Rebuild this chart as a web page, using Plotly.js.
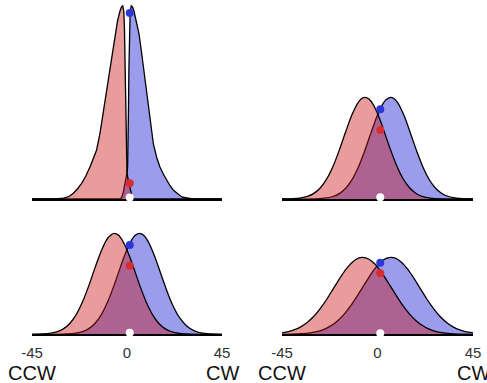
<!DOCTYPE html>
<html><head><meta charset="utf-8">
<script src="https://cdn.plot.ly/plotly-3.0.1.min.js"></script>
<style>html,body{margin:0;padding:0;background:#fff}#chart{width:487px;height:383px}</style>
</head><body><div id="chart"></div>
<script>
// ---- tick labels ----
const tickVals = [-45, 0, 45];
const tickText = ['-45', '0', '45'];
const dirText = ['CCW', 'CW'];
const dirPos = [-45, 45];

// ---- top-left panel ----
const tlRedX = [-45, -34, -30, -27.5, -25.4, -23.5, -21.5, -19.5, -17.5, -16, -14.4, -12.8, -11.6, -10.4, -9.2, -8, -6.8, -5.7, -4.5, -3.3, -2.6, -2.0, -1.5, -1.2, -0.9, -0.7, -0.5, -0.3, 0, 0.5, 1.1, 1.7, 2.4, 3.2, 45];
const tlRedY = [0, 0, 0.8, 2.5, 5.7, 10, 15.7, 23, 32.3, 40, 49, 65.7, 82, 99, 116, 132, 150, 165.7, 178, 188, 192, 193, 187, 170, 130, 90, 50, 32, 26, 20, 14, 7, 2, 0, 0];
const tlBlueX = [-45, -3.2, -2.4, -1.7, -1.1, -0.5, 0, 0.3, 0.5, 0.7, 0.9, 1.2, 1.5, 2.0, 2.6, 3.3, 4.5, 5.7, 6.8, 8, 9, 9.95, 11.2, 12.5, 14, 15.6, 17.2, 18.8, 20.3, 21.9, 23.9, 25.9, 28.3, 31, 45];
const tlBlueY = [0, 0, 2, 7, 14, 20, 26, 32, 50, 90, 130, 170, 187, 193, 192, 188, 178, 165, 148, 129, 113, 99, 75, 55, 42, 32, 25, 19, 13.5, 9, 5, 2, 1, 0, 0];
const tlDotY = [1.5, 15.7, 186];

// ---- top-right panel ----
const trRedX = [-45, -40, -36, -33, -30, -27, -24, -21, -18, -15, -12, -9, -7, -5.9, -4, -2, 0, 1.5, 3, 6, 9, 12, 15, 18, 21, 25, 30, 45];
const trRedY = [0, 0.3, 1.1, 2.6, 5.6, 11, 19.8, 32.5, 48.9, 67.2, 84.4, 96.9, 101.1, 101.7, 99.9, 94.3, 85.5, 77.4, 68.4, 50.1, 33.5, 20.5, 11.5, 5.8, 2.7, 0.9, 0.2, 0];
const trBlueX = [-45, -30, -25, -21, -18, -15, -12, -9, -6, -3, -1.5, 0, 2, 4, 6.2, 7.5, 9.5, 12.5, 15.5, 18.5, 21.5, 24.5, 27.5, 30.5, 33.5, 37, 41, 45];
const trBlueY = [0, 0.1, 0.8, 2.5, 5.4, 10.8, 19.4, 32, 48.3, 66.6, 75.6, 83.9, 93.1, 99.3, 101.7, 100.8, 96.3, 83.4, 66, 47.7, 31.5, 19, 10.5, 5.3, 2.5, 0.9, 0.2, 0];
const trDotY = [1.7, 69, 89.7];

// ---- bottom-left panel ----
const blRedX = [-45, -40, -36, -33, -30, -27, -24, -21, -18, -15, -12, -9, -6, -4, -2, 0, 1.5, 3, 6, 9, 12, 15, 18, 21, 25, 30, 45];
const blRedY = [0, 0.3, 1.1, 2.6, 5.7, 11.1, 20, 32.8, 49.2, 67.4, 84.4, 96.6, 101, 99, 93.2, 84.4, 76.3, 67.4, 49.2, 32.8, 20, 11.1, 5.7, 2.6, 0.8, 0.15, 0];
const blBlueX = [-45, -30.1, -25.1, -21.1, -18.1, -15.1, -12.1, -9.1, -6.1, -3.1, -1.6, -0.1, 1.9, 3.9, 5.9, 7.9, 9.9, 12.9, 15.9, 18.9, 21.9, 24.9, 27.9, 30.9, 33.9, 37.9, 41.9, 45];
const blBlueY = [0, 0.15, 0.8, 2.6, 5.7, 11.1, 20, 32.8, 49.2, 67.4, 76.3, 84.4, 93.2, 99, 101, 99, 93.2, 79.1, 61.3, 43.4, 28.1, 16.6, 9, 4.4, 2, 0.6, 0.15, 0];
const blDotY = [1.6, 68.6, 89.3];

// ---- bottom-right panel ----
const brRedX = [-45, -42, -39, -36, -33, -30, -27, -24, -21, -18, -15, -12, -9, -7, -4, -1, 1, 3, 6, 9, 12, 15, 18, 21, 24, 27, 31, 36, 41, 45];
const brRedY = [1.5, 2.7, 4.6, 7.7, 12.1, 18, 25.7, 34.8, 45, 55.2, 64.6, 71.9, 76.2, 77, 75.1, 69.8, 64.6, 58.5, 48.4, 38.2, 28.6, 20.4, 13.9, 9, 5.5, 3.2, 1.5, 0.5, 0.1, 0];
const brBlueX = [-45, -41, -36, -31, -27.6, -24.6, -21.6, -18.6, -15.6, -12.6, -9.6, -6.6, -3.6, -1.6, 0.4, 2.4, 4.4, 6.4, 8.4, 11.4, 14.4, 17.4, 20.4, 23.4, 26.4, 29.4, 32.4, 35.4, 38.4, 41.4, 45];
const brBlueY = [0, 0.1, 0.55, 1.7, 3.2, 5.5, 9, 13.9, 20.4, 28.6, 38.2, 48.4, 58.5, 64.6, 69.8, 73.7, 76.2, 77, 76.2, 71.9, 64.6, 55.2, 45, 34.8, 25.7, 18, 12.1, 7.7, 4.6, 2.7, 1.5];
const brDotY = [1.0, 61, 71.6];

const dotX = [1.3, 1.3, 1.3];
const dotColors = ['#ffffff', 'rgb(215,45,50)', 'rgb(45,55,215)'];

const RED_FILL = 'rgba(200,20,20,0.42)';
const BLUE_FILL = 'rgba(20,20,210,0.42)';

function panel(xs, ys, redX, redY, blueX, blueY, dotY, shape) {
  return [
    {x: blueX, y: blueY, xaxis: xs, yaxis: ys, type: 'scatter', mode: 'lines', fill: 'tozeroy',
     fillcolor: BLUE_FILL, line: {color: '#000', width: 1.3, shape: shape, smoothing: 0.8}, hoverinfo: 'skip'},
    {x: redX, y: redY, xaxis: xs, yaxis: ys, type: 'scatter', mode: 'lines', fill: 'tozeroy',
     fillcolor: RED_FILL, line: {color: '#000', width: 1.3, shape: shape, smoothing: 0.8}, hoverinfo: 'skip'},
    {x: dotX, y: dotY, xaxis: xs, yaxis: ys, type: 'scatter', mode: 'markers', cliponaxis: false,
     marker: {size: 8, color: dotColors, line: {width: 0}}, hoverinfo: 'skip'}
  ];
}

const data = [].concat(
  panel('x', 'y', tlRedX, tlRedY, tlBlueX, tlBlueY, tlDotY, 'linear'),
  panel('x2', 'y2', trRedX, trRedY, trBlueX, trBlueY, trDotY, 'spline'),
  panel('x3', 'y3', blRedX, blRedY, blBlueX, blBlueY, blDotY, 'spline'),
  panel('x4', 'y4', brRedX, brRedY, brBlueX, brBlueY, brDotY, 'spline')
);

const W = 487, H = 383;
const leftDom = [32 / W, 222 / W];
const rightDom = [282 / W, 473 / W];
const topDom = [(H - 199) / H, 1];
const botDom = [(H - 334.3) / H, (H - 200) / H];

function xax(dom, anchor, labels) {
  return {
    domain: dom, anchor: anchor, range: [-45, 45], showgrid: false, zeroline: false,
    showline: true, linecolor: '#000', linewidth: 1.6, ticks: '', layer: 'below traces',
    tickvals: tickVals, ticktext: tickText, showticklabels: labels, fixedrange: true,
    ticklabelstandoff: 4,
    tickfont: {family: 'Liberation Sans, Arial, sans-serif', size: 15, color: '#333'}
  };
}
function yax(dom, anchor, top) {
  return {domain: dom, anchor: anchor, range: [0, top], visible: false, fixedrange: true};
}

const annotations = [];
['x3', 'x4'].forEach(function (xr) {
  for (let i = 0; i < dirText.length; i++) {
    annotations.push({
      xref: xr, yref: 'paper', x: dirPos[i], y: (H - 373) / H, text: dirText[i],
      showarrow: false, xanchor: 'center', yanchor: 'middle',
      font: {family: 'Liberation Sans, Arial, sans-serif', size: 20, color: '#111'}
    });
  }
});

const layout = {
  width: W, height: H, margin: {l: 0, r: 0, t: 0, b: 0},
  paper_bgcolor: '#fff', plot_bgcolor: 'rgba(0,0,0,0)', showlegend: false,
  xaxis: xax(leftDom, 'y', false),
  yaxis: yax(topDom, 'x', 199),
  xaxis2: xax(rightDom, 'y2', false),
  yaxis2: yax(topDom, 'x2', 199),
  xaxis3: xax(leftDom, 'y3', true),
  yaxis3: yax(botDom, 'x3', 134.3),
  xaxis4: xax(rightDom, 'y4', true),
  yaxis4: yax(botDom, 'x4', 134.3),
  annotations: annotations
};

Plotly.newPlot('chart', data, layout, {staticPlot: true, displayModeBar: false});
</script>
</body></html>
